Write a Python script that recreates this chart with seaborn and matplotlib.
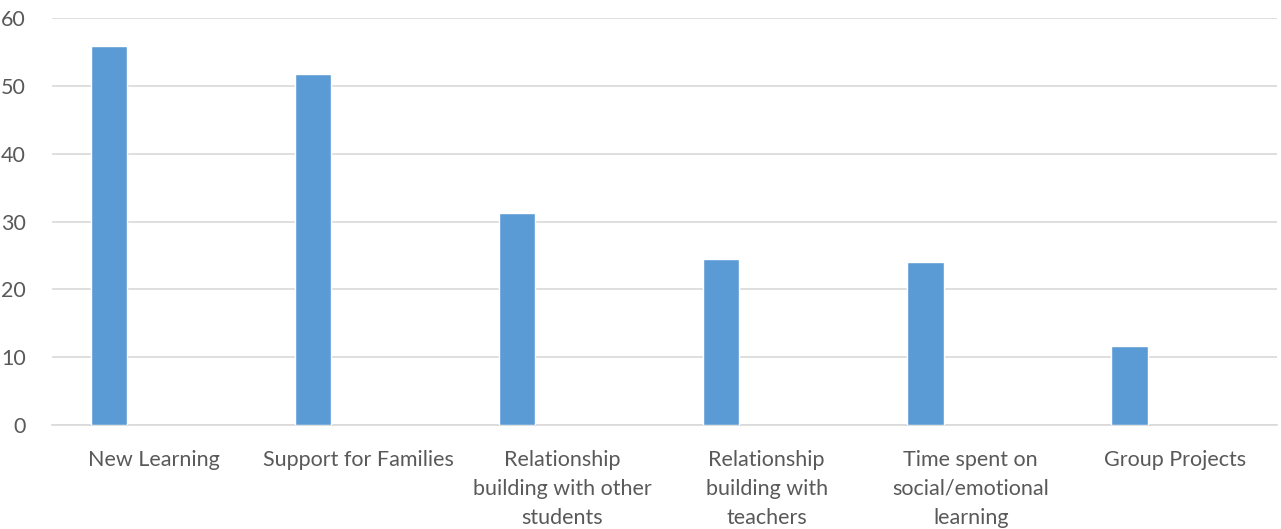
import numpy as np
import pandas as pd
import matplotlib.pyplot as plt
import seaborn as sns

categories = [
    "New Learning",
    "Support for Families",
    "Relationship\nbuilding with other\nstudents",
    "Relationship\nbuilding with\nteachers",
    "Time spent on\nsocial/emotional\nlearning",
    "Group Projects",
]
series1 = [55.9, 51.7, 31.2, 24.4, 24.1, 11.7]
# the second series in the original chart is empty
series2 = [np.nan] * len(categories)

df = pd.DataFrame({
    "category": categories * 2,
    "value": series1 + series2,
    "series": ["Series 1"] * len(categories) + ["Series 2"] * len(categories),
})

sns.set_theme(style="white")
plt.rcParams["font.family"] = ["Lato", "DejaVu Sans"]

fig = plt.figure(figsize=(12.81, 5.29), dpi=100)
ax = fig.add_axes([52 / 1281, 1 - 425 / 529, 1225 / 1281, 407 / 529])

sns.barplot(
    data=df, x="category", y="value", hue="series",
    order=categories, hue_order=["Series 1", "Series 2"],
    palette=["#5B9BD5", "#ED7D31"], saturation=1, width=0.888, gap=0.6,
    errorbar=None, legend=False, ax=ax, zorder=3,
)

ax.set_ylim(0, 60)
ax.set_yticks(range(0, 61, 10))
ax.set_xlim(-0.5, len(categories) - 0.5)
ax.yaxis.grid(True, color="#D9D9D9", linewidth=1.2, zorder=0)
ax.set_axisbelow(True)
for s in ["top", "right", "left"]:
    ax.spines[s].set_visible(False)
ax.spines["bottom"].set_color("#D9D9D9")
ax.spines["bottom"].set_linewidth(1.2)
ax.set_xlabel("")
ax.set_ylabel("")
ax.tick_params(axis="both", length=0, colors="#595959", labelsize=15.5)
ax.tick_params(axis="y", pad=19)
ax.tick_params(axis="x", pad=18)
for lbl in ax.get_xticklabels():
    lbl.set_linespacing(1.55)

fig.savefig("out.png", dpi=100)
